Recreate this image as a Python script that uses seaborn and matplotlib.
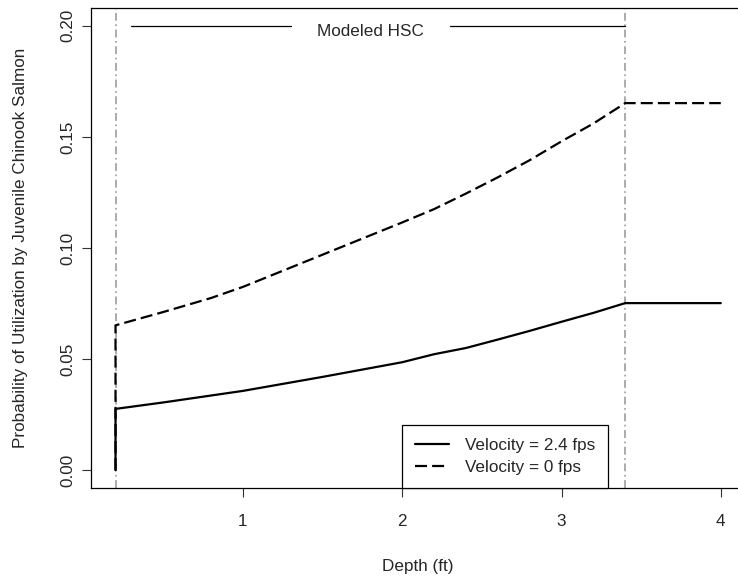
import numpy as np
import pandas as pd
import matplotlib
matplotlib.use("Agg")
import matplotlib.pyplot as plt
from matplotlib.lines import Line2D
import seaborn as sns

# ---- data ----
series_names = ["Velocity = 2.4 fps", "Velocity = 0 fps"]

depth_v24 = [0.2, 0.2, 0.5, 1.0, 1.5, 2.0, 2.2, 2.4, 2.6, 2.8, 3.0, 3.2, 3.4, 4.0]
p_vel_24 = [0.0, 0.0276, 0.0305, 0.0357, 0.0420, 0.0486, 0.0522, 0.0550,
            0.0588, 0.0627, 0.0668, 0.0708, 0.0752, 0.0752]

depth_v0 = [0.2, 0.2, 0.5, 0.8, 1.0, 1.5, 2.0, 2.2, 2.4, 2.6, 2.8, 3.0, 3.2, 3.4, 4.0]
p_vel_0 = [0.0, 0.0652, 0.0712, 0.0775, 0.0825, 0.0970, 0.1115, 0.1175,
           0.1245, 0.1318, 0.1395, 0.1480, 0.1560, 0.1652, 0.1652]

hsc_bounds = [0.2, 3.4]
hsc_label = "Modeled HSC"
hsc_label_x = 1.8
hsc_y = 0.2
hsc_left_seg = [0.3, 1.3]
hsc_right_seg = [2.3, 3.4]

x_ticks = [1, 2, 3, 4]
y_ticks = [0.00, 0.05, 0.10, 0.15, 0.20]
x_label = "Depth (ft)"
y_label = "Probability of Utilization by Juvenile Chinook Salmon"

df = pd.concat([
    pd.DataFrame({"depth": depth_v24, "prob": p_vel_24, "series": series_names[0]}),
    pd.DataFrame({"depth": depth_v0, "prob": p_vel_0, "series": series_names[1]}),
], ignore_index=True)

sns.set_style("ticks")
plt.rcParams["font.family"] = ["Liberation Sans", "DejaVu Sans"]
FS = 12.3

fig = plt.figure(figsize=(7.38, 5.77), dpi=100)
W, H = 738, 577
ax = fig.add_axes([91.3 / W, 89 / H, 653.7 / W, 480 / H])

# gray dash-dot boundaries
for b in hsc_bounds:
    ax.axvline(b, color="#a8a8a8", lw=1.35, linestyle=(0, (4.2, 1.9, 0.9, 1.9)), zorder=1)

dash_map = {series_names[0]: "", series_names[1]: (5.4, 2.3)}
sns.lineplot(data=df, x="depth", y="prob", style="series", dashes=dash_map,
             estimator=None, sort=False, color="black", lw=1.6, legend=False,
             ax=ax, zorder=3)

# Modeled HSC annotation
ax.plot(hsc_left_seg, [hsc_y, hsc_y], color="black", lw=0.9)
ax.plot(hsc_right_seg, [hsc_y, hsc_y], color="black", lw=0.9)
ax.annotate(hsc_label, xy=(hsc_label_x, hsc_y), xytext=(0, -7.7),
            textcoords="offset points", ha="center", va="baseline", fontsize=FS)

ax.set_xlim(0.048, 4.152)
ax.set_ylim(-0.008, 0.208)
ax.set_xticks(x_ticks)
ax.set_xticklabels([str(t) for t in x_ticks])
ax.set_yticks(y_ticks)
ax.set_yticklabels([f"{t:.2f}" for t in y_ticks], rotation=90, va="center")

for name, s in ax.spines.items():
    s.set_color("black")
    s.set_linewidth(0.9)
    s.set_visible(name != "right")

ax.tick_params(axis="x", direction="out", length=6.2, width=0.8, color="#333333",
               labelsize=FS, pad=12.5)
ax.tick_params(axis="y", direction="out", length=6.2, width=0.8, color="#333333",
               labelsize=FS, pad=5.5)

ax.set_xlabel(x_label, fontsize=FS)
ax.set_ylabel(y_label, fontsize=FS)
ax.xaxis.set_label_coords(0.5, -0.148)
ax.yaxis.set_label_coords(-0.097, 0.5)

handles = [Line2D([], [], color="black", lw=1.6, linestyle="-"),
           Line2D([], [], color="black", lw=1.6, linestyle=(0, (5.4, 2.3)))]
leg = ax.legend(handles, series_names, loc="lower left",
                bbox_to_anchor=(2.0, -0.008), bbox_transform=ax.transData,
                borderaxespad=0, frameon=True, fancybox=False, edgecolor="black",
                framealpha=1, fontsize=FS, borderpad=0.76, handlelength=2.0,
                handletextpad=0.9, labelspacing=0.4)
leg.get_frame().set_linewidth(0.9)

ax.set_facecolor("white")
fig.patch.set_facecolor("white")
fig.savefig("out.png", dpi=100)
